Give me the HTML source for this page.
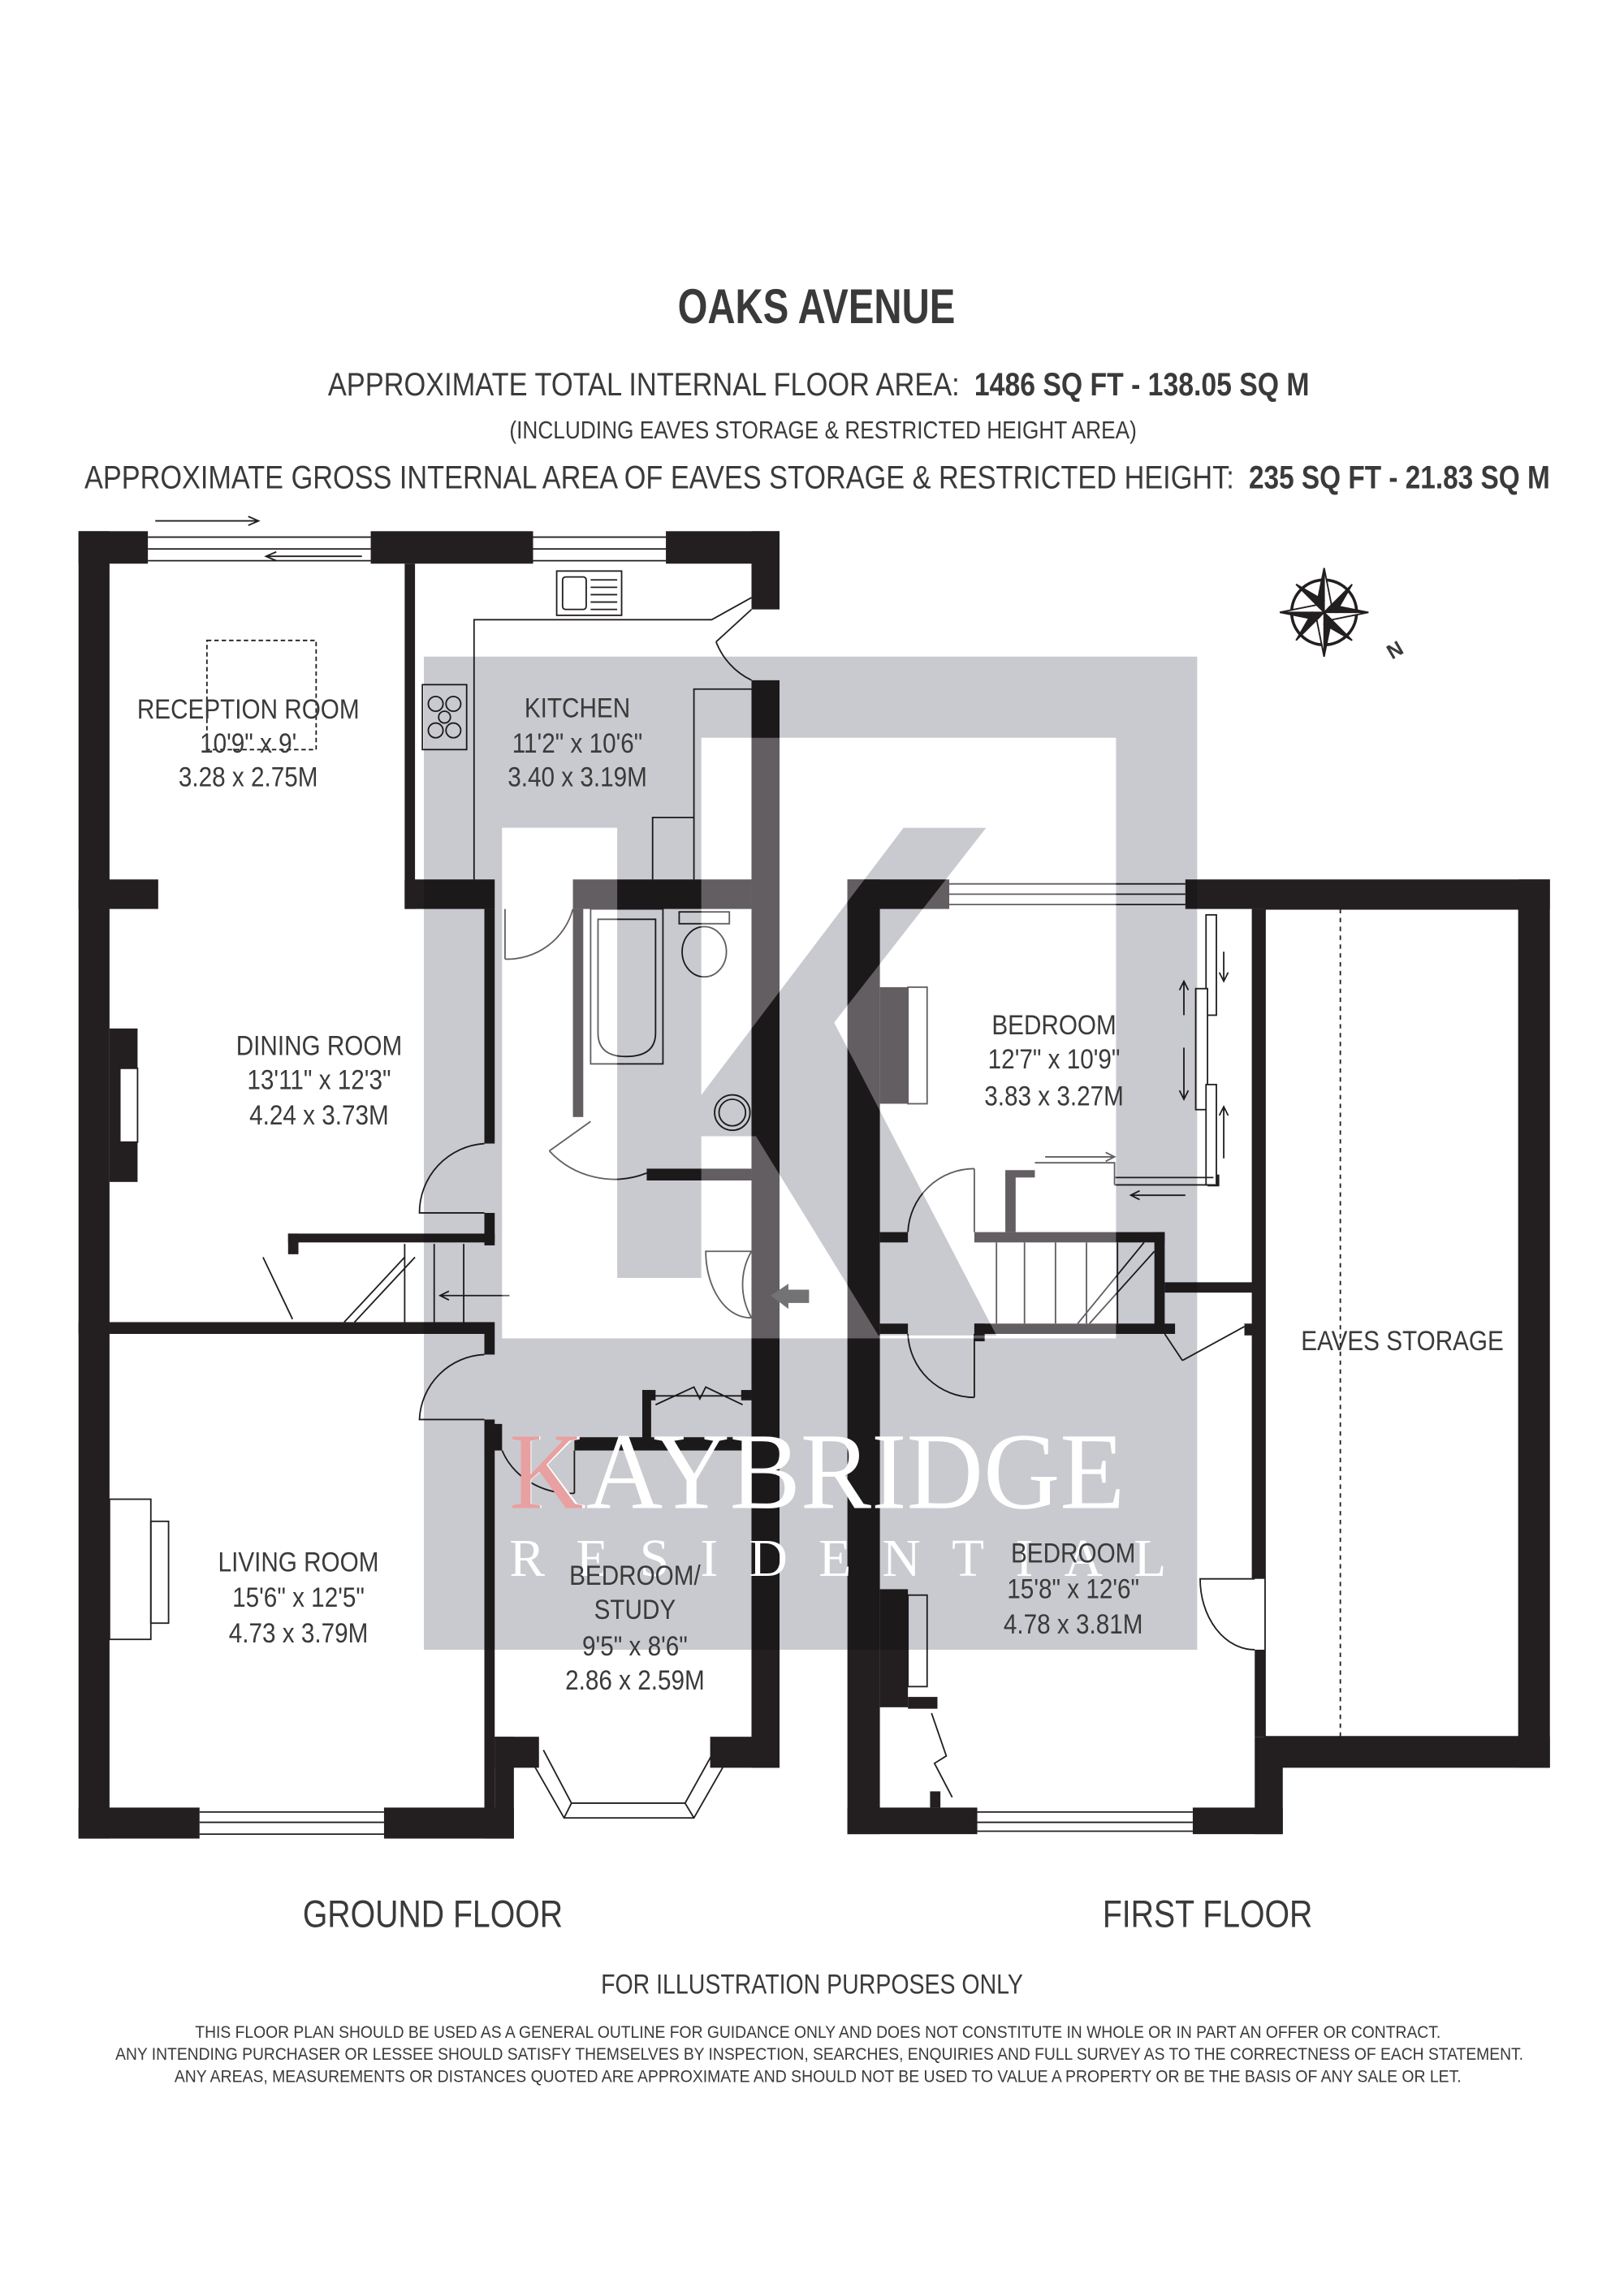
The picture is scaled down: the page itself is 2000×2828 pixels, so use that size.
<!DOCTYPE html>
<html><head><meta charset="utf-8"><style>
html,body{margin:0;padding:0;background:#fff;}
svg{display:block;}
text{font-family:"Liberation Sans",Arial,sans-serif;fill:#3a3a3a;}
</style></head><body>
<svg width="2000" height="2828" viewBox="0 0 1100 1556" xmlns="http://www.w3.org/2000/svg">
<rect width="1100" height="1556" fill="#fff"/>
<!-- header -->
<text x="553" y="219" font-size="33" font-weight="bold" text-anchor="middle" textLength="188" lengthAdjust="spacingAndGlyphs" fill="#222">OAKS AVENUE</text>
<text x="222" y="268" font-size="22" textLength="428" lengthAdjust="spacingAndGlyphs">APPROXIMATE TOTAL INTERNAL FLOOR AREA:</text>
<text x="660" y="268" font-size="22" font-weight="bold" textLength="227" lengthAdjust="spacingAndGlyphs">1486  SQ FT  -  138.05  SQ M</text>
<text x="345" y="297" font-size="17" textLength="425" lengthAdjust="spacingAndGlyphs">(INCLUDING EAVES STORAGE &amp; RESTRICTED HEIGHT AREA)</text>
<text x="57" y="331" font-size="22" textLength="779" lengthAdjust="spacingAndGlyphs">APPROXIMATE GROSS INTERNAL AREA OF EAVES STORAGE &amp; RESTRICTED HEIGHT:</text>
<text x="846" y="331" font-size="22" font-weight="bold" textLength="204" lengthAdjust="spacingAndGlyphs">235  SQ FT  -  21.83  SQ M</text>

<g fill="#231f20">
<!-- ground floor walls -->
<rect x="53" y="360" width="21" height="886"/>
<rect x="53" y="360" width="47" height="22"/>
<rect x="251" y="360" width="110" height="22"/>
<rect x="451" y="360" width="77" height="22"/>
<rect x="509" y="360" width="19" height="53"/>
<rect x="509" y="461" width="19" height="737"/>
<rect x="274" y="382" width="7" height="234"/>
<rect x="274" y="596" width="61" height="20"/>
<rect x="388" y="596" width="121" height="20"/>
<rect x="53" y="596" width="54" height="20"/>
<rect x="328" y="616" width="7" height="159"/>
<rect x="328" y="822" width="7" height="22"/>
<rect x="195" y="836" width="140" height="6"/>
<rect x="195" y="836" width="7" height="14"/>
<rect x="53" y="896" width="282" height="8"/>
<rect x="328" y="904" width="7" height="14"/>
<rect x="328" y="962" width="7" height="284"/>
<rect x="328" y="965" width="12" height="18"/>
<rect x="335" y="1177" width="13" height="69"/>
<rect x="53" y="1225" width="82" height="21"/>
<rect x="260" y="1225" width="88" height="21"/>
<rect x="335" y="1177" width="30" height="21"/>
<rect x="481" y="1177" width="47" height="21"/>
<rect x="389" y="974" width="120" height="9"/>
<rect x="435" y="942" width="6" height="38"/>
<rect x="435" y="942" width="9" height="7"/>
<rect x="502" y="942" width="7" height="7"/>
<rect x="388" y="616" width="7" height="141"/>
<rect x="438" y="792" width="71" height="8"/>
<rect x="74" y="697" width="19" height="104"/>
<!-- first floor walls -->
<rect x="574" y="596" width="22" height="647"/>
<rect x="574" y="596" width="69" height="20"/>
<rect x="803" y="596" width="247" height="20"/>
<rect x="1029" y="596" width="21" height="602"/>
<rect x="857" y="1177" width="193" height="21"/>
<rect x="850" y="1177" width="19" height="66"/>
<rect x="848" y="616" width="9" height="454"/>
<rect x="850" y="1118" width="7" height="59"/>
<rect x="574" y="1225" width="88" height="18"/>
<rect x="808" y="1225" width="61" height="18"/>
<rect x="681" y="796" width="7" height="39"/>
<rect x="681" y="793" width="20" height="5"/>
<rect x="660" y="835" width="129" height="7"/>
<rect x="782" y="835" width="7" height="66"/>
<rect x="660" y="897" width="136" height="7"/>
<rect x="660" y="897" width="7" height="12"/>
<rect x="596" y="835" width="19" height="7"/>
<rect x="596" y="897" width="19" height="7"/>
<rect x="789" y="869" width="61" height="7"/>
<rect x="843" y="897" width="7" height="8"/>
<rect x="596" y="1077" width="19" height="80"/>
<rect x="615" y="1150" width="20" height="8"/>
<rect x="630" y="1214" width="7" height="11"/>
<rect x="818" y="796" width="8" height="8"/>
<rect x="596" y="669" width="19" height="79"/>
</g>

<g fill="none" stroke="#231f20" stroke-width="1">
<path d="M100 364H251M100 372H251M100 380H251"/>
<path d="M361 364H451M361 372H451M361 380H451"/>
<path d="M105 353H175M168 350L175 353L168 356"/>
<path d="M180 377H245M187 374L180 377L187 380"/>
<path d="M135 1228H260M135 1235H260M135 1243H260"/>
<path d="M512 542V586M520 542V586M512 703V768M520 703V768M512 817V843M520 817V843M512 900V930M520 900V930"/>
<path d="M509 542H528M509 586H528M509 703H528M509 768H528M509 817H528M509 843H528M509 900H528M509 930H528"/>
<path d="M509 413L485 435M509 461A48 48 0 0 1 485 435"/>
<path d="M321 596V420H482L509 405M470 596V467H509M442 596V554H470"/>
<rect x="377" y="387" width="44" height="30"/>
<path d="M400 393H418M400 398H418M400 403H418M400 408H418M400 413H418"/>
<rect x="381" y="391" width="16" height="22" rx="2"/>
<rect x="286" y="464" width="30" height="44"/>
<circle cx="295" cy="477" r="5"/><circle cx="307" cy="477" r="5"/><circle cx="301" cy="486" r="4"/><circle cx="295" cy="495" r="5"/><circle cx="307" cy="495" r="5"/>
<rect x="140" y="434" width="74" height="74" stroke-dasharray="3 2"/>
<path d="M342 616V650M342 650A46 46 0 0 0 388 616"/>
<path d="M328 775A47 47 0 0 0 284 822H328"/>
<path d="M274 843V896M294 843V896M314 843V896M233 896L274 852M240 896L281 852"/>
<path d="M345 878H298M304 875L298 878L304 881"/>
<path d="M178 852L198 894"/>
<path d="M328 918A46 46 0 0 0 284 962H328"/>
<rect x="81" y="724" width="12" height="50" fill="#fff"/>
<rect x="74" y="1016" width="28" height="95"/>
<rect x="102" y="1031" width="12" height="69"/>
<path d="M389 983V1012M389 1012A50 45 0 0 1 340 983"/>
<path d="M444 952L470 940L474 948L478 940L503 952M441 946H509"/>
<path d="M358 1190L382 1232H470L494 1190M368 1186L387 1222H464L484 1186M382 1232L387 1222M470 1232L464 1222"/>
<rect x="400" y="616" width="49" height="105"/>
<path d="M405 623V700Q405 716 424 716Q444 716 444 700V623Z"/>
<rect x="460" y="618" width="34" height="8"/>
<ellipse cx="477" cy="645" rx="15" ry="17"/>
<circle cx="496" cy="754" r="12"/><circle cx="496" cy="754" r="9"/>
<path d="M400 760L372 780M372 780A60 60 0 0 0 438 795"/>
<path d="M643 599H803M643 606H803M643 613H803"/>
<path d="M662 1228H808M662 1235H808M662 1241H808"/>
<rect x="817" y="620" width="7" height="68" fill="#fff"/>
<rect x="810" y="670" width="8" height="82" fill="#fff"/>
<rect x="817" y="735" width="7" height="68" fill="#fff"/>
<path d="M755 798H822M755 803H822M701 788H755V803"/>
<path d="M708 784H755M749 781L755 784L749 787"/>
<path d="M766 810H803M772 807L766 810L772 813"/>
<path d="M829 645V665M826 659L829 665L832 659M802 665V688M799 671L802 665L805 671M802 710V745M799 739L802 745L805 739M829 750V785M826 756L829 750L832 756"/>
<rect x="615" y="669" width="13" height="79" fill="#fff"/>
<rect x="615" y="1081" width="13" height="62" fill="#fff"/>
<path d="M631 1161L641 1190L633 1195L645 1218"/>
<path d="M660 792V835M660 792A45 45 0 0 0 615 835"/>
<path d="M660 904V947M660 947A45 45 0 0 1 615 904"/>
<path d="M675 842V897M694 842V897M715 842V897M736 842V897M757 842V897M730 897L775 842M738 897L782 848"/>
<path d="M801 922L843 899M789 904L801 922"/>
<path d="M850 1070H813A37 48 0 0 0 850 1118"/>
<path d="M908 616V1177" stroke-dasharray="3 3"/>
<rect x="857" y="616" width="172" height="561"/>
</g>
<polygon points="522,878 534,870 534,874 548,874 548,883 534,883 534,887" fill="#3a3a3a"/>
<path d="M509 848A45 45 0 0 0 509 893M509 848H478A30 45 0 0 0 509 893" fill="none" stroke="#231f20"/>

<!-- watermark overlays -->
<path fill-rule="evenodd" fill="#c9cacf" style="mix-blend-mode:multiply"
 d="M287 445H811V1118H287Z M475 500H756V907H340V561H475Z M418 561L475 561L475 742L612 561L668 561L565 693L675 905L595 905L512 770L475 770L475 866L418 866Z"/>
<path fill-rule="evenodd" fill="#4a484b" style="mix-blend-mode:screen"
 d="M475 500H756V907H340V561H475Z M418 561L475 561L475 742L612 561L668 561L565 693L675 905L595 905L512 770L475 770L475 866L418 866Z"/>
<text x="345" y="1022" font-size="74" textLength="417" lengthAdjust="spacingAndGlyphs" style="fill:#fff;font-family:'Liberation Serif',serif">KAYBRIDGE</text>
<text x="345" y="1022" font-size="74" style="fill:#e8a0a0;font-family:'Liberation Serif',serif" textLength="50" lengthAdjust="spacingAndGlyphs">K</text>
<text x="345" y="1068" font-size="36" textLength="445" lengthAdjust="spacing" style="fill:#fff;font-family:'Liberation Serif',serif">RESIDENTIAL</text>

<!-- compass -->
<g transform="translate(897,415)" stroke="#231f20" fill="none">
<circle r="22" stroke-width="2"/>
<polygon points="0,-30 5,-5 30,0 5,5 0,30 -5,5 -30,0 -5,-5" fill="#231f20"/>
<polygon points="0,-30 5,-5 0,0" fill="#fff"/>
<polygon points="30,0 5,5 0,0" fill="#fff"/>
<polygon points="0,30 -5,5 0,0" fill="#fff"/>
<polygon points="-30,0 -5,-5 0,0" fill="#fff"/>
<polygon points="19,-19 3,-3 8,0" fill="#231f20"/>
<polygon points="-19,19 -3,3 -8,0" fill="#231f20"/>
<polygon points="19,19 3,3 0,8" fill="#231f20"/>
<polygon points="-19,-19 -3,-3 0,-8" fill="#231f20"/>
</g>
<text x="940" y="448" font-size="14" font-weight="bold" transform="rotate(-30 940 442)" fill="#231f20">N</text>

<!-- room labels -->
<g font-size="19" text-anchor="middle">
<g transform="translate(168,0) scale(0.86,1)"><text x="0" y="487">RECEPTION ROOM</text><text x="0" y="510">10'9" x 9'</text><text x="0" y="533">3.28 x 2.75M</text></g>
<g transform="translate(391,0) scale(0.86,1)"><text x="0" y="486">KITCHEN</text><text x="0" y="510">11'2" x 10'6"</text><text x="0" y="533">3.40 x 3.19M</text></g>
<g transform="translate(216,0) scale(0.86,1)"><text x="0" y="715">DINING ROOM</text><text x="0" y="738">13'11" x 12'3"</text><text x="0" y="762">4.24 x 3.73M</text></g>
<g transform="translate(202,0) scale(0.86,1)"><text x="0" y="1065">LIVING ROOM</text><text x="0" y="1089">15'6" x 12'5"</text><text x="0" y="1113">4.73 x 3.79M</text></g>
<g transform="translate(430,0) scale(0.86,1)"><text x="0" y="1074">BEDROOM/</text><text x="0" y="1097">STUDY</text><text x="0" y="1122">9'5" x 8'6"</text><text x="0" y="1145">2.86 x 2.59M</text></g>
<g transform="translate(714,0) scale(0.86,1)"><text x="0" y="701">BEDROOM</text><text x="0" y="724">12'7" x 10'9"</text><text x="0" y="749">3.83 x 3.27M</text></g>
<g transform="translate(950,0) scale(0.86,1)"><text x="0" y="915">EAVES STORAGE</text></g>
<g transform="translate(727,0) scale(0.86,1)"><text x="0" y="1059">BEDROOM</text><text x="0" y="1083">15'8" x 12'6"</text><text x="0" y="1107">4.78 x 3.81M</text></g>
</g>
<g font-size="26" text-anchor="middle">
<g transform="translate(293,0) scale(0.83,1)"><text x="0" y="1306">GROUND FLOOR</text></g>
<g transform="translate(818,0) scale(0.83,1)"><text x="0" y="1306">FIRST FLOOR</text></g>
</g>
<text x="407" y="1351" font-size="19" textLength="286" lengthAdjust="spacingAndGlyphs">FOR ILLUSTRATION PURPOSES ONLY</text>
<g font-size="11.5">
<text x="132" y="1381" textLength="844" lengthAdjust="spacingAndGlyphs">THIS FLOOR PLAN SHOULD BE USED AS A GENERAL OUTLINE FOR GUIDANCE ONLY AND DOES NOT CONSTITUTE IN WHOLE OR IN PART AN OFFER OR CONTRACT.</text>
<text x="78" y="1396" textLength="954" lengthAdjust="spacingAndGlyphs">ANY INTENDING PURCHASER OR LESSEE SHOULD SATISFY THEMSELVES BY INSPECTION, SEARCHES, ENQUIRIES AND FULL SURVEY AS TO THE CORRECTNESS OF EACH STATEMENT.</text>
<text x="118" y="1411" textLength="872" lengthAdjust="spacingAndGlyphs">ANY AREAS, MEASUREMENTS OR DISTANCES QUOTED ARE APPROXIMATE AND SHOULD NOT BE USED TO VALUE A PROPERTY OR BE THE BASIS OF ANY SALE OR LET.</text>
</g>
</svg>
</body></html>
